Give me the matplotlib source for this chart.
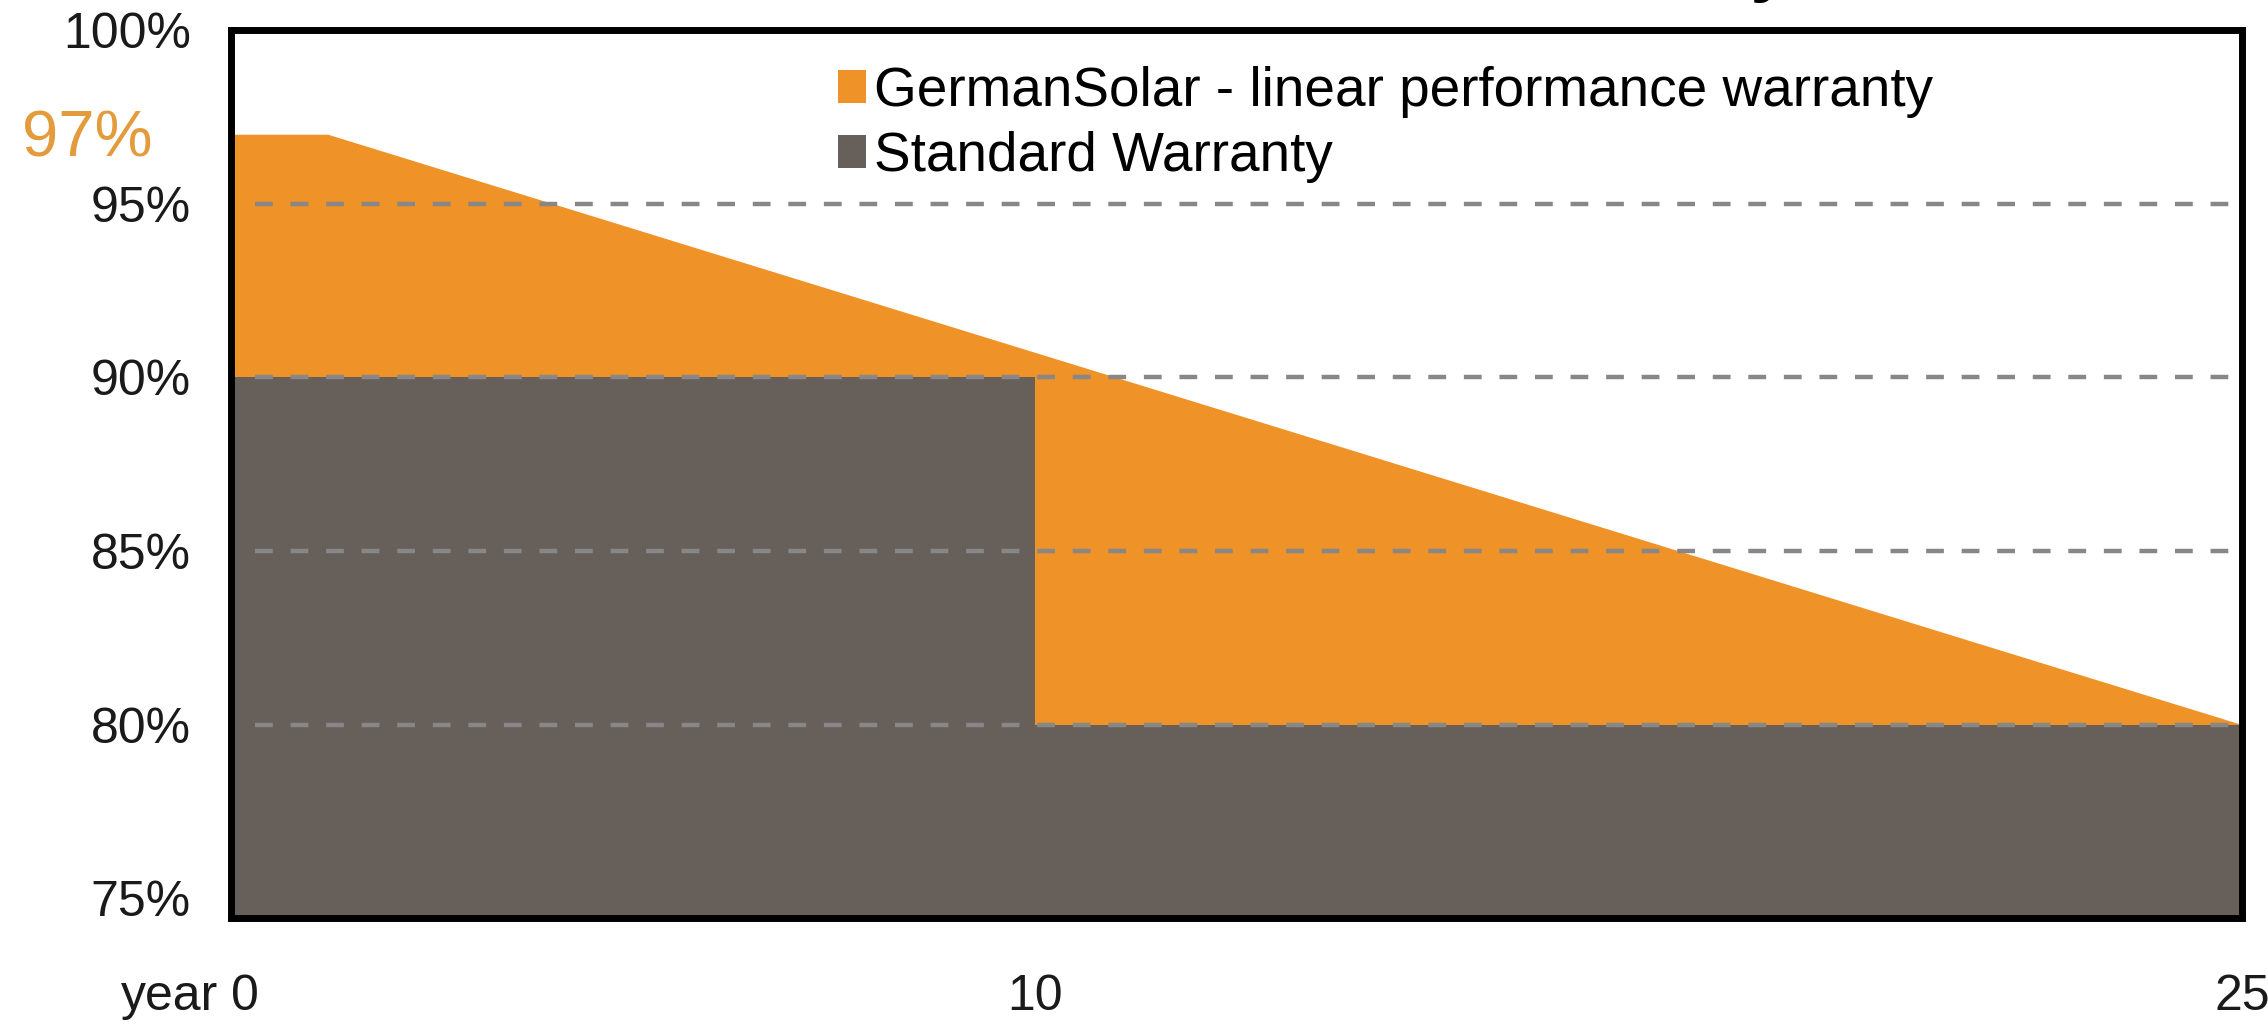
"""
Linear performance warranty vs standard warranty
Step/area chart, saved as out.png
"""

import matplotlib.pyplot as plt
import matplotlib.transforms as mtransforms
from matplotlib.patches import Patch

plt.rcParams["font.family"] = ["Liberation Sans", "DejaVu Sans"]

# ---------------------------------------------------------------------------
# Data
# ---------------------------------------------------------------------------

# GermanSolar linear warranty: flat 97% for the first year, then linear to 80% at year 25
LINEAR_YEARS = [0, 1.2, 25]
LINEAR_PCT = [97, 97, 80]

# Standard warranty: 90% for 10 years, 80% up to year 25 (step)
STD_YEARS = [0, 10, 25]
STD_PCT = [90, 80, 80]

Y_TICKS = [75, 80, 85, 90, 95, 100]
Y_LABELS = ["75%", "80%", "85%", "90%", "95%", "100%"]
GRID_LEVELS = [80, 85, 90, 95]
X_TICKS = [0, 10, 25]
X_LABELS = ["0", "10", "25"]

LEGEND_LABELS = ["GermanSolar - linear performance warranty", "Standard Warranty"]

ORANGE = "#EF9227"
GRAY = "#675F59"
LABEL_ORANGE = "#E39B3C"
Y_BOTTOM = 74.43


def main():
    fig = plt.figure(figsize=(22.68, 10.25), dpi=100)
    ax = fig.add_axes([0.1019, 0.1044, 0.8866, 0.8663])

    ax.fill_between(LINEAR_YEARS, LINEAR_PCT, Y_BOTTOM, color=ORANGE,
                    linewidth=0, zorder=1)
    ax.fill_between(STD_YEARS, STD_PCT, Y_BOTTOM, step="post", color=GRAY,
                    linewidth=0, zorder=2)

    # dashed reference lines drawn over the areas
    ax.hlines(GRID_LEVELS, 0.3, 24.9, colors="#878787", linewidth=3.2,
              linestyles=(0, (4, 4)), zorder=3)

    ax.set_xlim(0, 25)
    ax.set_ylim(Y_BOTTOM, 100)

    ax.set_xticks(X_TICKS)
    ax.set_xticklabels(X_LABELS)
    ax.set_yticks(Y_TICKS)
    ax.set_yticklabels(Y_LABELS)
    ax.tick_params(axis="both", length=0, labelsize=36, colors="#1a1a1a")
    ax.tick_params(axis="x", pad=40)
    ax.tick_params(axis="y", pad=29)
    ax.get_xticklabels()[0].set_ha("left")

    for spine in ax.spines.values():
        spine.set_linewidth(5)
        spine.set_color("black")
        spine.set_zorder(5)

    # "year" in front of the first x label
    trans = mtransforms.blended_transform_factory(ax.transData, ax.transAxes)
    ax.annotate("year", xy=(0, 0), xycoords=trans, xytext=(-9, -40),
                textcoords="offset points", ha="right", va="top",
                fontsize=36, color="#1a1a1a")

    # starting value of the linear warranty, next to the y axis
    ytrans = mtransforms.blended_transform_factory(ax.transAxes, ax.transData)
    ax.text(-0.039, 96.85, f"{LINEAR_PCT[0]}%", transform=ytrans,
            ha="right", va="center", fontsize=47, color=LABEL_ORANGE)

    handles = [Patch(facecolor=ORANGE, edgecolor="none"),
               Patch(facecolor=GRAY, edgecolor="none")]
    ax.legend(handles, LEGEND_LABELS, loc="upper left",
              bbox_to_anchor=(0.302, 0.96), frameon=False, fontsize=39.5,
              handlelength=0.5, handleheight=0.55, handletextpad=0.15,
              labelspacing=0.24, borderpad=0, borderaxespad=0)

    # title sits above the crop, only the descender shows
    fig.text(0.789, 1.011, "Linear Performance Warranty", ha="right",
             va="baseline", fontsize=50, fontweight="bold")

    fig.savefig("out.png", dpi=100)
    plt.close(fig)


if __name__ == "__main__":
    main()
